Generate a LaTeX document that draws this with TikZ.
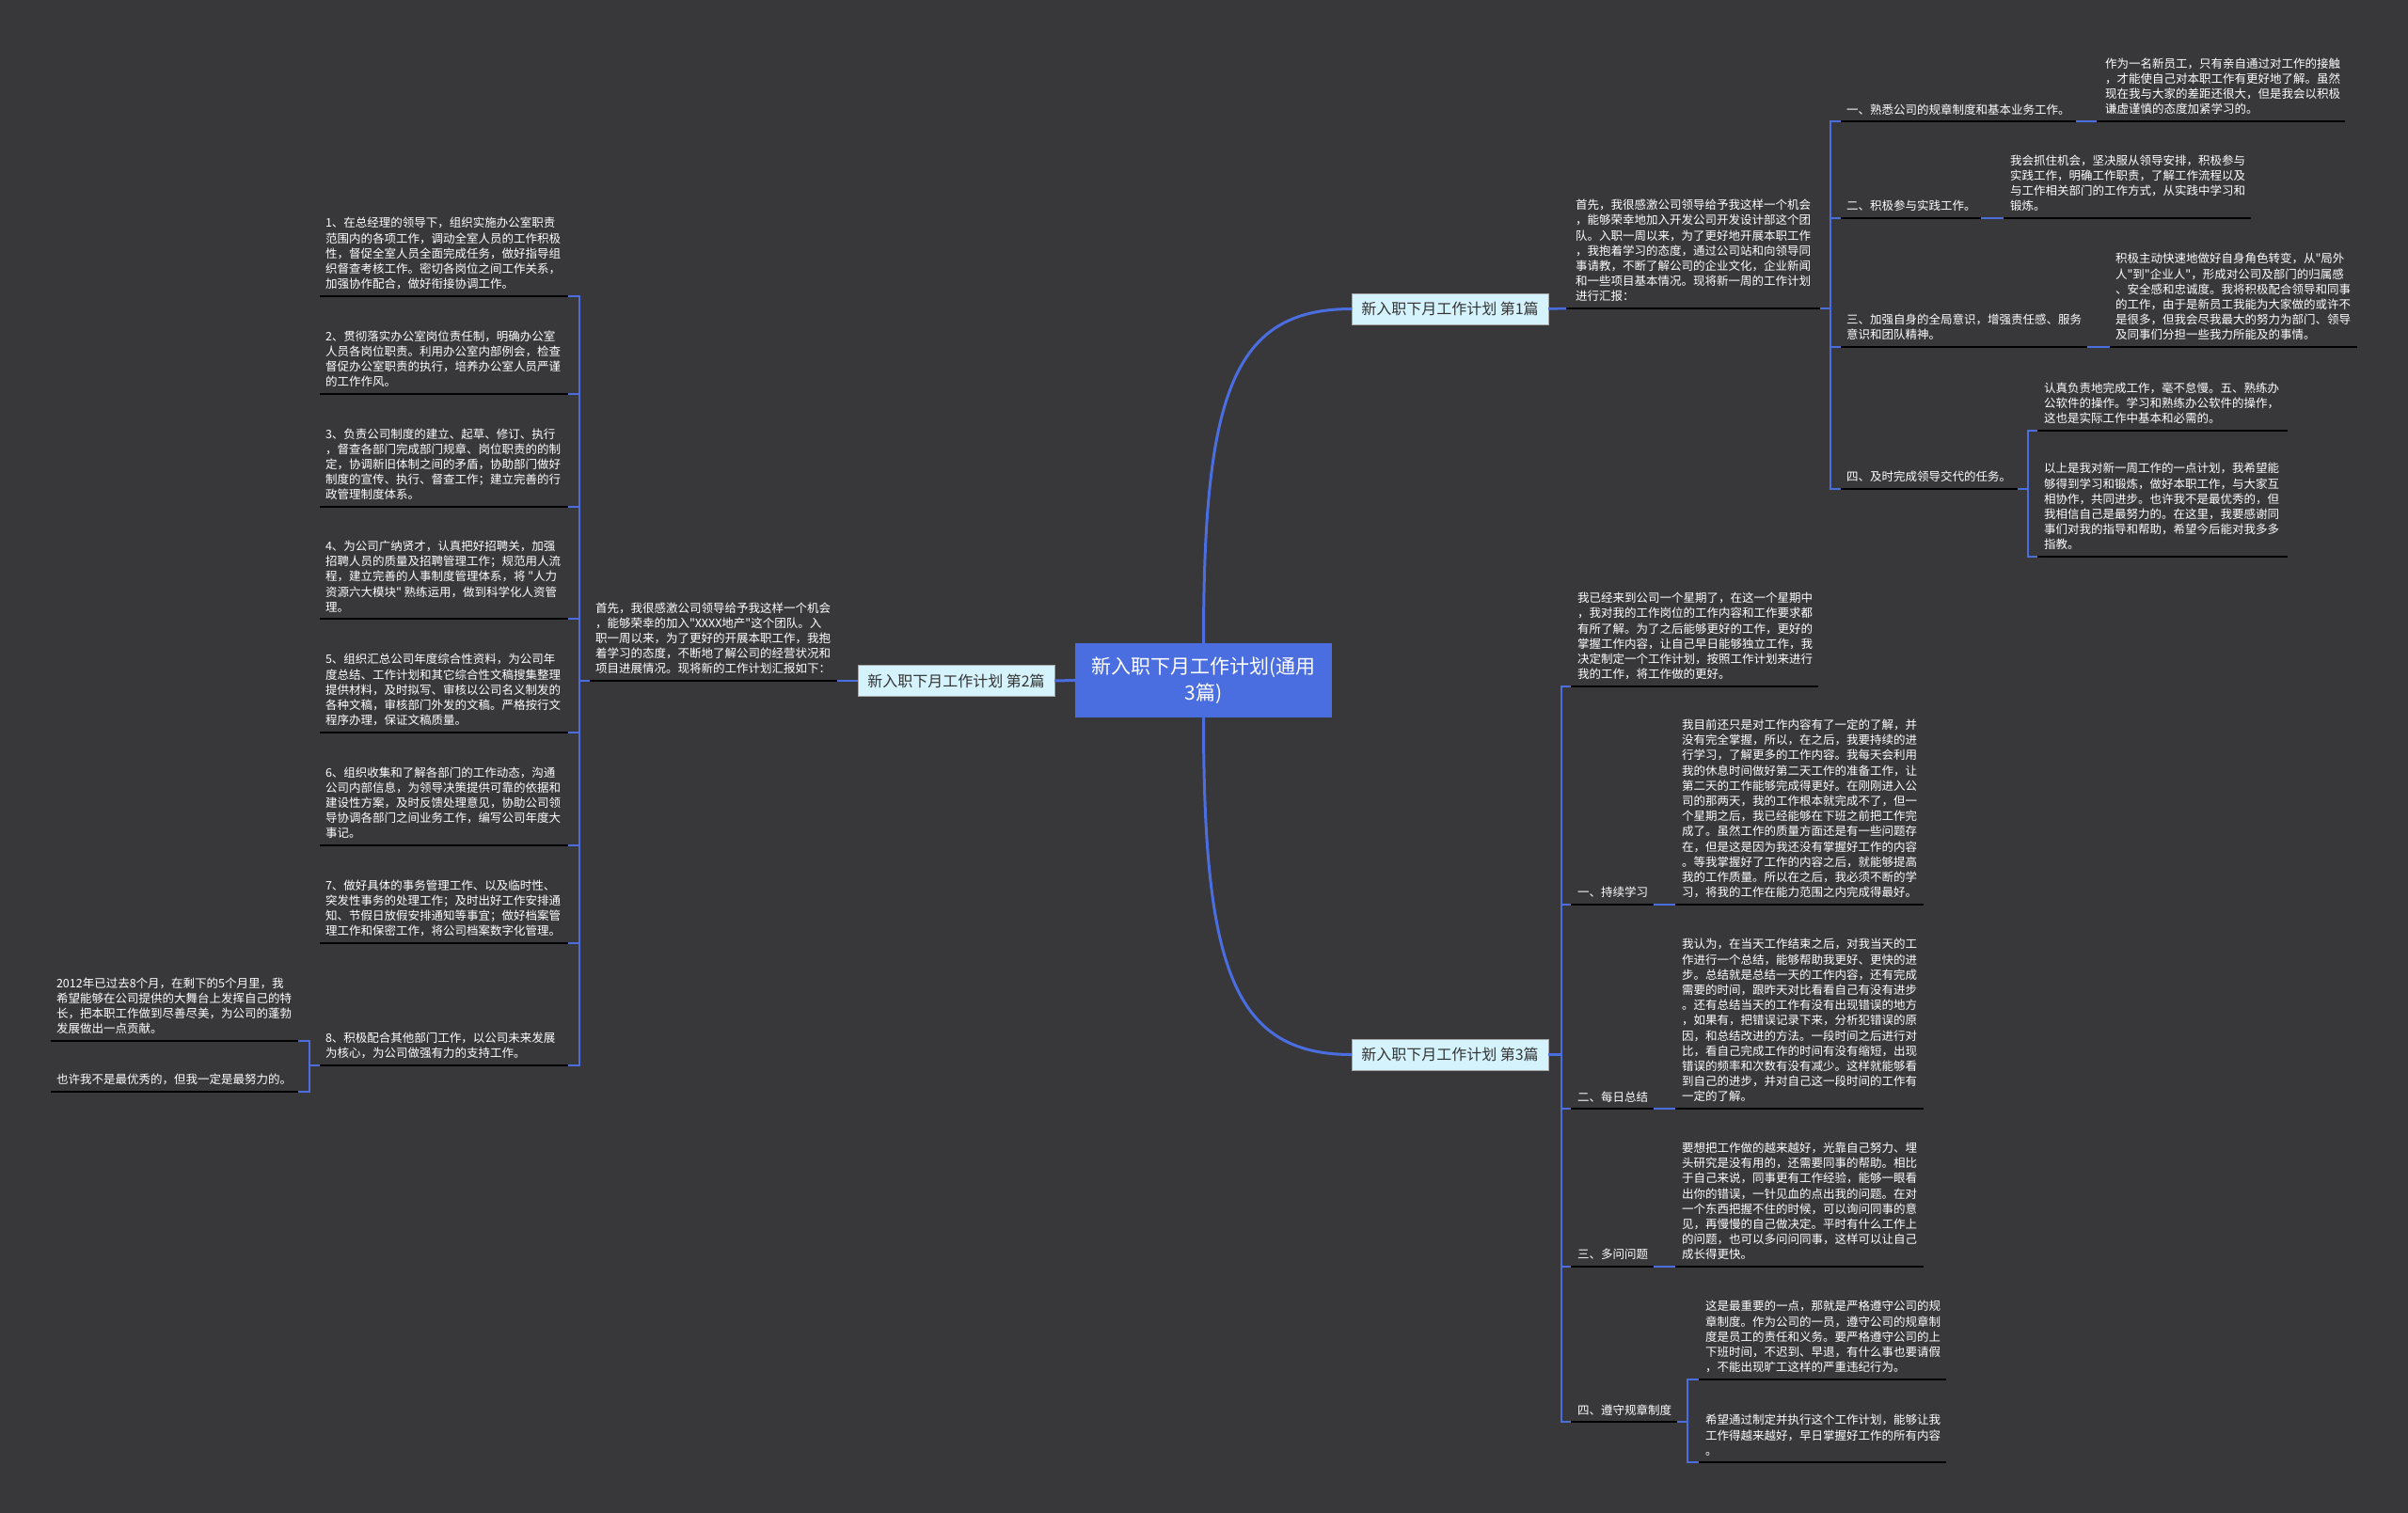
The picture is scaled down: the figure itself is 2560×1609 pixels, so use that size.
\documentclass[tikz,border=0pt]{standalone}
\usepackage{fontspec}
\setmainfont{Noto Sans CJK SC}[Ligatures=TeXOff]
\definecolor{bgc}{HTML}{38373A}
\definecolor{lineblue}{HTML}{4A6EE0}
\definecolor{centerfill}{HTML}{4A6EE0}
\definecolor{branchfill}{HTML}{D5F3FC}
\definecolor{branchtext}{HTML}{333333}
\tikzset{
  txt/.style={anchor=south west, inner sep=0pt, outer sep=0pt, text=white, align=left, font=\fontsize{12.5}{16.2}\selectfont},
  uline/.style={draw=black, line width=2.5pt},
  conn/.style={draw=lineblue, line width=2.5pt},
  curveconn/.style={draw=lineblue, line width=3pt},
  branch/.style={draw=gray!70, fill=branchfill, text=branchtext, minimum width=209pt, minimum height=33pt, inner sep=0pt, font=\fontsize{16}{18}\selectfont},
  centerbox/.style={fill=centerfill, text=white, minimum width=273pt, minimum height=79pt, inner sep=0pt, align=center, font=\fontsize{21}{28}\selectfont},
}
% name, text x, black left, black right, underline y, text
\newcommand\mmtopic[6]{%
  \node[txt] (#1) at (#2,#5-7) {#6};
  \coordinate (#1-l) at (#3,#5);
  \coordinate (#1-r) at (#4,#5);
  \draw[uline] (#1-l) -- (#1-r);
}
\begin{document}
\begin{tikzpicture}[x=1pt,y=-1pt]
\useasboundingbox (0,0) rectangle (2560,1609);
\fill[bgc] (0,0) rectangle (2560,1609);

% ---------- centre and branches ----------
\node[centerbox] (c) at (1279.5,723.5) {新入职下月工作计划(通用\\3篇)};
\node[branch] (b1) at (1541.5,328.5) {新入职下月工作计划 第1篇};
\node[branch] (b3) at (1541.5,1121.5) {新入职下月工作计划 第3篇};
\node[branch] (b2) at (1016.5,724) {新入职下月工作计划 第2篇};

\draw[curveconn] (c.north) .. controls (1279.5,420) and (1310,328.5) .. (b1.west);
\draw[curveconn] (c.south) .. controls (1279.5,1027) and (1310,1121.5) .. (b3.west);
\draw[curveconn] (c.west) -- (b2.east);

% ---------- branch 1 ----------
\mmtopic{A}{1675}{1665}{1935}{328}{首先，我很感激公司领导给予我这样一个机会\\，能够荣幸地加入开发公司开发设计部这个团\\队。入职一周以来，为了更好地开展本职工作\\，我抱着学习的态度，通过公司站和向领导同\\事请教，不断了解公司的企业文化，企业新闻\\和一些项目基本情况。现将新一周的工作计划\\进行汇报：}
\mmtopic{a1}{1963}{1957}{2207}{129}{一、熟悉公司的规章制度和基本业务工作。}
\mmtopic{c1}{2238}{2229}{2493}{129}{作为一名新员工，只有亲自通过对工作的接触\\，才能使自己对本职工作有更好地了解。虽然\\现在我与大家的差距还很大，但是我会以积极\\谦虚谨慎的态度加紧学习的。}
\mmtopic{a2}{1963}{1957}{2106}{232}{二、积极参与实践工作。}
\mmtopic{c2}{2137}{2130}{2393}{232}{我会抓住机会，坚决服从领导安排，积极参与\\实践工作，明确工作职责，了解工作流程以及\\与工作相关部门的工作方式，从实践中学习和\\锻炼。}
\mmtopic{a3}{1963}{1957}{2219}{369}{三、加强自身的全局意识，增强责任感、服务\\意识和团队精神。}
\mmtopic{c3}{2249}{2243}{2506}{369}{积极主动快速地做好自身角色转变，从"局外\\人"到"企业人"，形成对公司及部门的归属感\\、安全感和忠诚度。我将积极配合领导和同事\\的工作，由于是新员工我能为大家做的或许不\\是很多，但我会尽我最大的努力为部门、领导\\及同事们分担一些我力所能及的事情。}
\mmtopic{a4}{1963}{1957}{2145}{520}{四、及时完成领导交代的任务。}
\mmtopic{c4a}{2173}{2166}{2432}{458}{认真负责地完成工作，毫不怠慢。五、熟练办\\公软件的操作。学习和熟练办公软件的操作，\\这也是实际工作中基本和必需的。}
\mmtopic{c4b}{2173}{2166}{2432}{592}{以上是我对新一周工作的一点计划，我希望能\\够得到学习和锻炼，做好本职工作，与大家互\\相协作，共同进步。也许我不是最优秀的，但\\我相信自己是最努力的。在这里，我要感谢同\\事们对我的指导和帮助，希望今后能对我多多\\指教。}

\draw[conn] (b1.east) -- (A-l);
\draw[conn] (A-r) -- ++(11,0) |- (a1-l);
\draw[conn] (A-r) -- ++(11,0) |- (a2-l);
\draw[conn] (A-r) -- ++(11,0) |- (a3-l);
\draw[conn] (A-r) -- ++(11,0) |- (a4-l);
\draw[conn] (a1-r) -- (c1-l);
\draw[conn] (a2-r) -- (c2-l);
\draw[conn] (a3-r) -- (c3-l);
\draw[conn] (a4-r) -- ++(11,0) |- (c4a-l);
\draw[conn] (a4-r) -- ++(11,0) |- (c4b-l);

% ---------- branch 3 ----------
\mmtopic{B0}{1677}{1670}{1933}{730}{我已经来到公司一个星期了，在这一个星期中\\，我对我的工作岗位的工作内容和工作要求都\\有所了解。为了之后能够更好的工作，更好的\\掌握工作内容，让自己早日能够独立工作，我\\决定制定一个工作计划，按照工作计划来进行\\我的工作，将工作做的更好。}
\mmtopic{d1}{1677}{1670}{1758}{962}{一、持续学习}
\mmtopic{e1}{1788}{1781}{2045}{962}{我目前还只是对工作内容有了一定的了解，并\\没有完全掌握，所以，在之后，我要持续的进\\行学习，了解更多的工作内容。我每天会利用\\我的休息时间做好第二天工作的准备工作，让\\第二天的工作能够完成得更好。在刚刚进入公\\司的那两天，我的工作根本就完成不了，但一\\个星期之后，我已经能够在下班之前把工作完\\成了。虽然工作的质量方面还是有一些问题存\\在，但是这是因为我还没有掌握好工作的内容\\。等我掌握好了工作的内容之后，就能够提高\\我的工作质量。所以在之后，我必须不断的学\\习，将我的工作在能力范围之内完成得最好。}
\mmtopic{d2}{1677}{1670}{1758}{1179}{二、每日总结}
\mmtopic{e2}{1788}{1781}{2045}{1179}{我认为，在当天工作结束之后，对我当天的工\\作进行一个总结，能够帮助我更好、更快的进\\步。总结就是总结一天的工作内容，还有完成\\需要的时间，跟昨天对比看看自己有没有进步\\。还有总结当天的工作有没有出现错误的地方\\，如果有，把错误记录下来，分析犯错误的原\\因，和总结改进的方法。一段时间之后进行对\\比，看自己完成工作的时间有没有缩短，出现\\错误的频率和次数有没有减少。这样就能够看\\到自己的进步，并对自己这一段时间的工作有\\一定的了解。}
\mmtopic{d3}{1677}{1670}{1758}{1347}{三、多问问题}
\mmtopic{e3}{1788}{1781}{2045}{1347}{要想把工作做的越来越好，光靠自己努力、埋\\头研究是没有用的，还需要同事的帮助。相比\\于自己来说，同事更有工作经验，能够一眼看\\出你的错误，一针见血的点出我的问题。在对\\一个东西把握不住的时候，可以询问同事的意\\见，再慢慢的自己做决定。平时有什么工作上\\的问题，也可以多问问同事，这样可以让自己\\成长得更快。}
\mmtopic{d4}{1677}{1670}{1783}{1512}{四、遵守规章制度}
\mmtopic{f1}{1813}{1806}{2069}{1467}{这是最重要的一点，那就是严格遵守公司的规\\章制度。作为公司的一员，遵守公司的规章制\\度是员工的责任和义务。要严格遵守公司的上\\下班时间，不迟到、早退，有什么事也要请假\\，不能出现旷工这样的严重违纪行为。}
\mmtopic{f2}{1813}{1806}{2069}{1555}{希望通过制定并执行这个工作计划，能够让我\\工作得越来越好，早日掌握好工作的所有内容\\。}

\draw[conn] (b3.east) -- ++(14,0) |- (B0-l);
\draw[conn] (b3.east) -- ++(14,0) |- (d1-l);
\draw[conn] (b3.east) -- ++(14,0) |- (d2-l);
\draw[conn] (b3.east) -- ++(14,0) |- (d3-l);
\draw[conn] (b3.east) -- ++(14,0) |- (d4-l);
\draw[conn] (d1-r) -- (e1-l);
\draw[conn] (d2-r) -- (e2-l);
\draw[conn] (d3-r) -- (e3-l);
\draw[conn] (d4-r) -- ++(11,0) |- (f1-l);
\draw[conn] (d4-r) -- ++(11,0) |- (f2-l);

% ---------- branch 2 ----------
\mmtopic{F}{633}{627}{890}{724}{首先，我很感激公司领导给予我这样一个机会\\，能够荣幸的加入"XXXX地产"这个团队。入\\职一周以来，为了更好的开展本职工作，我抱\\着学习的态度，不断地了解公司的经营状况和\\项目进展情况。现将新的工作计划汇报如下：}
\mmtopic{i1}{346}{340}{604}{315}{1、在总经理的领导下，组织实施办公室职责\\范围内的各项工作，调动全室人员的工作积极\\性，督促全室人员全面完成任务，做好指导组\\织督查考核工作。密切各岗位之间工作关系，\\加强协作配合，做好衔接协调工作。}
\mmtopic{i2}{346}{340}{604}{419}{2、贯彻落实办公室岗位责任制，明确办公室\\人员各岗位职责。利用办公室内部例会，检查\\督促办公室职责的执行，培养办公室人员严谨\\的工作作风。}
\mmtopic{i3}{346}{340}{604}{539}{3、负责公司制度的建立、起草、修订、执行\\，督查各部门完成部门规章、岗位职责的的制\\定，协调新旧体制之间的矛盾，协助部门做好\\制度的宣传、执行、督查工作；建立完善的行\\政管理制度体系。}
\mmtopic{i4}{346}{340}{604}{658}{4、为公司广纳贤才，认真把好招聘关，加强\\招聘人员的质量及招聘管理工作；规范用人流\\程，建立完善的人事制度管理体系，将 "人力\\资源六大模块" 熟练运用，做到科学化人资管\\理。}
\mmtopic{i5}{346}{340}{604}{779}{5、组织汇总公司年度综合性资料，为公司年\\度总结、工作计划和其它综合性文稿搜集整理\\提供材料，及时拟写、审核以公司名义制发的\\各种文稿，审核部门外发的文稿。严格按行文\\程序办理，保证文稿质量。}
\mmtopic{i6}{346}{340}{604}{899}{6、组织收集和了解各部门的工作动态，沟通\\公司内部信息，为领导决策提供可靠的依据和\\建设性方案，及时反馈处理意见，协助公司领\\导协调各部门之间业务工作，编写公司年度大\\事记。}
\mmtopic{i7}{346}{340}{604}{1003}{7、做好具体的事务管理工作、以及临时性、\\突发性事务的处理工作；及时出好工作安排通\\知、节假日放假安排通知等事宜；做好档案管\\理工作和保密工作，将公司档案数字化管理。}
\mmtopic{i8}{346}{340}{604}{1133}{8、积极配合其他部门工作，以公司未来发展\\为核心，为公司做强有力的支持工作。}
\mmtopic{g1}{60}{54}{317}{1107}{2012年已过去8个月，在剩下的5个月里，我\\希望能够在公司提供的大舞台上发挥自己的特\\长，把本职工作做到尽善尽美，为公司的蓬勃\\发展做出一点贡献。}
\mmtopic{g2}{60}{54}{317}{1161}{也许我不是最优秀的，但我一定是最努力的。}

\draw[conn] (b2.west) -- (F-r);
\foreach \k in {i1,i2,i3,i4,i5,i6,i7,i8}{
  \draw[conn] (F-l) -- ++(-11,0) |- (\k-r);
}
\draw[conn] (i8-l) -- ++(-11,0) |- (g1-r);
\draw[conn] (i8-l) -- ++(-11,0) |- (g2-r);
\end{tikzpicture}
\end{document}
